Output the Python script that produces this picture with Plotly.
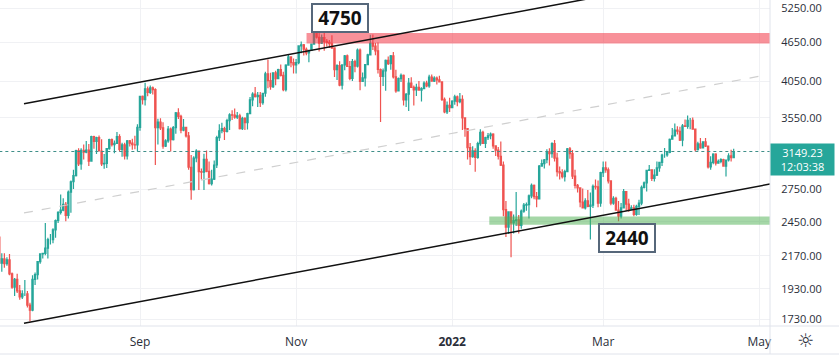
import math
import pandas as pd
import plotly.graph_objects as go

# ---------------- data (ETH/USD daily) ----------------
start_date = "2021-07-08"
end_date = "2022-04-21"

opens = [
    # Jul 8-31
    2320, 2115, 2146, 2110, 2140, 2035, 1940, 1995, 1915, 1875, 1895, 1895, 1820, 1787, 1995, 2030, 2125, 2185, 2190, 2230, 2300, 2300, 2380, 2462,
    # Aug
    2535, 2555, 2607, 2508, 2725, 2827, 2890, 3158, 3013, 3163, 3141, 3164, 3043, 3322, 3265, 3310, 3155, 3012, 3018, 3182, 3286, 3226, 3243, 3320, 3172, 3224, 3100, 3270, 3244, 3226, 3225,
    # Sep
    3433, 3835, 3790, 3940, 3887, 3952, 3927, 3428, 3497, 3427, 3211, 3270, 3410, 3285, 3430, 3614, 3571, 3399, 3433, 3330, 2977, 2749, 3077, 3155, 2930, 2925, 3062, 2934, 2807, 2853,
    # Oct
    3001, 3308, 3391, 3418, 3382, 3517, 3590, 3587, 3560, 3575, 3418, 3545, 3490, 3606, 3787, 3864, 3830, 3847, 3748, 3877, 4155, 4057, 3971, 4171, 4086, 4218, 4133, 3927, 4287, 4414, 4325,
    # Nov
    4288, 4325, 4590, 4607, 4536, 4478, 4518, 4620, 4812, 4735, 4636, 4730, 4667, 4650, 4626, 4558, 4218, 4280, 3992, 4290, 4432, 4265, 4087, 4340, 4270, 4524, 4044, 4097, 4295, 4445,
    # Dec
    4631, 4586, 4511, 4220, 4119, 4198, 4358, 4308, 4432, 4110, 3908, 4085, 4134, 3785, 3863, 4019, 3960, 3924, 3960, 3921, 3941, 4020, 3981, 4108, 4047, 4093, 4067, 4037, 3793, 3628, 3713,
    # Jan
    3682, 3769, 3829, 3761, 3794, 3550, 3418, 3193, 3091, 3157, 3083, 3238, 3372, 3243, 3310, 3331, 3350, 3212, 3164, 3096, 3000, 2560, 2405, 2538, 2440, 2460, 2467, 2420, 2545, 2600, 2605,
    # Feb
    2688, 2790, 2680, 2660, 2990, 3015, 3058, 3145, 3125, 3240, 3075, 2930, 2917, 2880, 2930, 3180, 3125, 2885, 2790, 2765, 2630, 2575, 2640, 2590, 2600, 2780, 2775, 2620,
    # Mar
    2920, 2970, 2950, 2835, 2620, 2665, 2555, 2500, 2575, 2730, 2610, 2560, 2575, 2515, 2590, 2620, 2770, 2815, 2945, 2950, 2860, 2895, 2970, 3030, 3110, 3110, 3140, 3290, 3330, 3400, 3385,
    # Apr 1-21
    3280, 3450, 3445, 3520, 3520, 3410, 3170, 3235, 3190, 3260, 3210, 2980, 3030, 3120, 3020, 3040, 3060, 2990, 3055, 3100, 3080,
]

highs = [
    2325, 2190, 2190, 2160, 2185, 2045, 2005, 2035, 1955, 1920, 1990, 1915, 1835, 2025, 2045, 2130, 2190, 2195, 2440, 2315, 2345, 2395, 2470, 2545,
    2700, 2665, 2630, 2740, 2840, 2950, 3170, 3185, 3185, 3230, 3270, 3235, 3330, 3330, 3320, 3335, 3290, 3120, 3185, 3295, 3300, 3275, 3375, 3350, 3250, 3250, 3280, 3280, 3295, 3330, 3470,
    3840, 3845, 4025, 3970, 3985, 3970, 3945, 3540, 3545, 3495, 3290, 3450, 3430, 3450, 3625, 3675, 3590, 3535, 3440, 3375, 3110, 3095, 3175, 3160, 2965, 3125, 3160, 3040, 2950, 3050,
    3330, 3470, 3490, 3440, 3540, 3610, 3650, 3670, 3625, 3605, 3565, 3560, 3615, 3825, 3890, 3965, 3895, 3895, 3885, 4185, 4375, 4170, 4175, 4200, 4230, 4295, 4185, 4300, 4460, 4420, 4390,
    4380, 4600, 4665, 4620, 4565, 4530, 4630, 4825, 4840, 4868, 4780, 4805, 4705, 4690, 4770, 4565, 4300, 4345, 4300, 4445, 4450, 4350, 4380, 4370, 4550, 4550, 4175, 4300, 4465, 4775,
    4780, 4640, 4645, 4235, 4235, 4375, 4420, 4445, 4490, 4215, 4100, 4160, 4145, 3880, 4095, 4105, 3985, 4010, 4050, 3960, 4045, 4055, 4140, 4145, 4120, 4115, 4125, 4040, 3820, 3765, 3815,
    3780, 3855, 3845, 3880, 3850, 3555, 3420, 3245, 3210, 3185, 3260, 3410, 3390, 3320, 3365, 3370, 3360, 3215, 3200, 3265, 3040, 2640, 2545, 2545, 2515, 2725, 2510, 2560, 2620, 2625, 2700,
    2810, 2800, 2725, 3000, 3060, 3065, 3175, 3185, 3255, 3280, 3135, 2985, 2955, 2950, 3190, 3200, 3165, 2950, 2805, 2770, 2760, 2665, 2745, 2720, 2800, 2850, 2840, 2930,
    3040, 3040, 2975, 2840, 2685, 2680, 2640, 2620, 2755, 2730, 2660, 2600, 2605, 2605, 2650, 2790, 2830, 2950, 3000, 2955, 2955, 3040, 3035, 3125, 3190, 3150, 3300, 3425, 3480, 3445, 3440,
    3475, 3530, 3580, 3550, 3555, 3415, 3260, 3305, 3265, 3305, 3215, 3095, 3130, 3130, 3060, 3075, 3070, 3045, 3130, 3170, 3180,
]

lows = [
    2085, 2050, 2080, 2095, 2025, 1930, 1880, 1900, 1855, 1860, 1880, 1805, 1718, 1780, 1955, 1995, 2110, 2150, 2175, 2150, 2260, 2270, 2315, 2440,
    2515, 2545, 2455, 2480, 2530, 2755, 2880, 2990, 2950, 3060, 3130, 2990, 3035, 3180, 3120, 3150, 2990, 2960, 2970, 3170, 3205, 3130, 3240, 3150, 3090, 3060, 3060, 3205, 3170, 3175, 3150,
    3390, 3725, 3710, 3835, 3865, 3860, 3000, 3230, 3400, 3180, 3200, 3250, 3150, 3275, 3355, 3535, 3360, 3385, 3310, 2950, 2650, 2740, 3030, 2745, 2850, 2745, 2925, 2800, 2790, 2845,
    2970, 3270, 3360, 3280, 3370, 3400, 3525, 3540, 3535, 3405, 3400, 3400, 3405, 3600, 3700, 3820, 3690, 3690, 3720, 3830, 3945, 3925, 3950, 3990, 4075, 4115, 3905, 3900, 4275, 4255, 4160,
    4160, 4300, 4470, 4435, 4440, 4330, 4515, 4615, 4715, 4500, 4620, 4510, 4580, 4555, 4540, 4110, 4065, 3975, 3930, 4210, 4260, 4060, 4050, 4180, 4250, 3920, 4040, 3970, 4285, 4440,
    4525, 4440, 4160, 3500, 3980, 3910, 4290, 4215, 4085, 3885, 3900, 4035, 3710, 3690, 3640, 3955, 3710, 3840, 3920, 3765, 3935, 3960, 3955, 4040, 4035, 4000, 4030, 3770, 3610, 3600, 3625,
    3680, 3720, 3700, 3740, 3400, 3320, 3060, 3000, 3080, 2930, 3070, 3215, 3235, 3190, 3280, 3290, 3180, 3100, 3060, 2990, 2500, 2320, 2345, 2160, 2350, 2415, 2350, 2390, 2530, 2550, 2480,
    2665, 2655, 2580, 2655, 2985, 2965, 3020, 2995, 3080, 3040, 2880, 2850, 2860, 2830, 2925, 3070, 2855, 2760, 2720, 2580, 2570, 2560, 2580, 2300, 2575, 2750, 2580, 2585,
    2875, 2920, 2810, 2600, 2605, 2550, 2455, 2480, 2570, 2550, 2540, 2555, 2500, 2505, 2510, 2600, 2760, 2730, 2940, 2835, 2830, 2885, 2930, 2990, 3080, 3090, 3130, 3285, 3325, 3345, 3270,
    3210, 3440, 3415, 3410, 3410, 3150, 3160, 3180, 3185, 3200, 2965, 2950, 3010, 2995, 3015, 3020, 2990, 2880, 3040, 3040, 3075,
]

closes = [
    2115, 2146, 2110, 2140, 2035, 1940, 1995, 1915, 1875, 1895, 1895, 1820, 1787, 1995, 2030, 2125, 2185, 2190, 2230, 2300, 2300, 2380, 2462, 2535,
    2555, 2607, 2508, 2725, 2827, 2890, 3158, 3013, 3163, 3141, 3164, 3043, 3322, 3265, 3310, 3155, 3012, 3018, 3182, 3286, 3226, 3243, 3320, 3172, 3224, 3100, 3270, 3244, 3226, 3225, 3433,
    3835, 3790, 3940, 3887, 3952, 3927, 3428, 3497, 3427, 3211, 3270, 3410, 3285, 3430, 3614, 3571, 3399, 3433, 3330, 2977, 2749, 3077, 3155, 2930, 2925, 3062, 2934, 2807, 2853, 3001,
    3308, 3391, 3418, 3382, 3517, 3590, 3587, 3560, 3575, 3418, 3545, 3490, 3606, 3787, 3864, 3830, 3847, 3748, 3877, 4155, 4057, 3971, 4171, 4086, 4218, 4133, 3927, 4287, 4414, 4325, 4288,
    4325, 4590, 4607, 4536, 4478, 4518, 4620, 4812, 4735, 4636, 4730, 4667, 4650, 4626, 4558, 4218, 4280, 3992, 4290, 4432, 4265, 4087, 4340, 4270, 4524, 4044, 4097, 4295, 4445, 4631,
    4586, 4511, 4220, 4119, 4198, 4358, 4308, 4432, 4110, 3908, 4085, 4134, 3785, 3863, 4019, 3960, 3924, 3960, 3921, 3941, 4020, 3981, 4108, 4047, 4093, 4067, 4037, 3793, 3628, 3713, 3682,
    3769, 3829, 3761, 3794, 3550, 3418, 3193, 3091, 3157, 3083, 3238, 3372, 3243, 3310, 3331, 3350, 3212, 3164, 3096, 3000, 2560, 2405, 2538, 2440, 2460, 2467, 2420, 2545, 2600, 2605, 2688,
    2790, 2680, 2660, 2990, 3015, 3058, 3145, 3125, 3240, 3075, 2930, 2917, 2880, 2930, 3180, 3125, 2885, 2790, 2765, 2630, 2575, 2640, 2590, 2600, 2780, 2775, 2620, 2920,
    2970, 2950, 2835, 2620, 2665, 2555, 2500, 2575, 2730, 2610, 2560, 2575, 2515, 2590, 2620, 2770, 2815, 2945, 2950, 2860, 2895, 2970, 3030, 3110, 3110, 3140, 3290, 3330, 3400, 3385, 3280,
    3450, 3445, 3520, 3520, 3410, 3170, 3235, 3190, 3260, 3210, 2980, 3030, 3120, 3020, 3040, 3060, 2990, 3055, 3100, 3080, 3149.23,
]

last_price = 3149.23
countdown = "12:03:38"

# drawings (levels)
upper_channel_dates = ["2021-07-17 16:00", "2022-02-27 18:00"]
upper_channel_prices = [3735, 5474]
lower_channel_dates = ["2021-07-17 16:00", "2022-05-05 05:00"]
lower_channel_prices = [1706, 2804]
mid_channel_dates = ["2021-07-17 16:00", "2022-05-03 21:00"]
mid_channel_prices = [2529, 4139]

resistance_start = "2021-11-05 02:00"
resistance_zone = [4630, 4805]
support_start = "2022-01-15 12:00"
support_zone = [2424, 2497]
zone_end = "2022-05-08"

top_label = "4750"
bottom_label = "2440"

price_ticks = [1730, 1930, 2170, 2450, 2750, 3550, 4050, 4650, 5250]
date_ticks = ["2021-09-01", "2021-11-01", "2022-01-01", "2022-03-01", "2022-05-01"]
date_tick_text = ["Sep", "Nov", "<b>2022</b>", "Mar", "May"]

# ---------------- figure ----------------
dates = pd.date_range(start_date, end_date, freq="D")

GREEN = "#26a69a"
RED = "#ef5350"
FONT = "Open Sans"

fig = go.Figure()

fig.add_trace(go.Candlestick(
    x=dates, open=opens, high=highs, low=lows, close=closes,
    increasing=dict(line=dict(color=GREEN, width=1.2), fillcolor=GREEN),
    decreasing=dict(line=dict(color=RED, width=1.2), fillcolor=RED),
    whiskerwidth=0, hoverinfo="skip",
))

# last price dotted line
fig.add_trace(go.Scatter(
    x=["2021-07-01", "2022-05-10"], y=[last_price, last_price], mode="lines",
    line=dict(color="#3f8f89", width=1, dash="dot"), hoverinfo="skip",
))

# zones
fig.add_trace(go.Scatter(
    x=[resistance_start, zone_end, zone_end, resistance_start, resistance_start],
    y=[resistance_zone[0], resistance_zone[0], resistance_zone[1], resistance_zone[1], resistance_zone[0]],
    mode="lines", fill="toself", fillcolor="rgba(242,54,69,0.55)", line=dict(width=0),
    hoverinfo="skip",
))
fig.add_trace(go.Scatter(
    x=[support_start, zone_end, zone_end, support_start, support_start],
    y=[support_zone[0], support_zone[0], support_zone[1], support_zone[1], support_zone[0]],
    mode="lines", fill="toself", fillcolor="rgba(76,175,80,0.5)", line=dict(width=0),
    hoverinfo="skip",
))

# channel lines
fig.add_trace(go.Scatter(x=mid_channel_dates, y=mid_channel_prices, mode="lines",
                         line=dict(color="#cfcfcf", width=1.2, dash="dash"), hoverinfo="skip"))
fig.add_trace(go.Scatter(x=upper_channel_dates, y=upper_channel_prices, mode="lines",
                         line=dict(color="#111111", width=1.5), hoverinfo="skip"))
fig.add_trace(go.Scatter(x=lower_channel_dates, y=lower_channel_prices, mode="lines",
                         line=dict(color="#111111", width=1.5), hoverinfo="skip"))

PLOT_W, PLOT_H = 770, 326
BORDER = "#e0e3eb"

shapes = [
    dict(type="line", xref="paper", yref="paper", x0=0, x1=839 / PLOT_W, y0=0, y1=0,
         line=dict(color=BORDER, width=1)),
    dict(type="line", xref="paper", yref="paper", x0=0, x1=839 / PLOT_W,
         y0=(PLOT_H - 354) / PLOT_H, y1=(PLOT_H - 354) / PLOT_H, line=dict(color=BORDER, width=1)),
    dict(type="line", xref="paper", yref="paper", x0=1, x1=1, y0=1.01,
         y1=(PLOT_H - 354) / PLOT_H, line=dict(color=BORDER, width=1)),
]

annotations = [
    dict(text=f"<b>{top_label}</b>", xref="paper", yref="paper",
         x=340 / PLOT_W, y=(PLOT_H - 17.5) / PLOT_H, xanchor="center", yanchor="middle",
         showarrow=False, bgcolor="white", bordercolor="#56677a", borderwidth=2, borderpad=1,
         width=52, height=24, font=dict(family=FONT, size=19, color="#111111")),
    dict(text=f"<b>{bottom_label}</b>", xref="paper", yref="paper",
         x=627 / PLOT_W, y=(PLOT_H - 238) / PLOT_H, xanchor="center", yanchor="middle",
         showarrow=False, bgcolor="white", bordercolor="#56677a", borderwidth=2, borderpad=1,
         width=52, height=24, font=dict(family=FONT, size=19, color="#111111")),
    dict(text=f"{last_price:.2f}<br>{countdown}", xref="paper", yref="paper",
         x=1.0, y=(PLOT_H - 159.5) / PLOT_H, xanchor="left", yanchor="middle",
         showarrow=False, bgcolor=GREEN, borderpad=2, width=59, height=27,
         font=dict(family=FONT, size=11, color="white")),
    dict(text="☼", xref="paper", yref="paper", x=805 / PLOT_W, y=(PLOT_H - 340) / PLOT_H,
         xanchor="center", yanchor="middle", showarrow=False,
         font=dict(family="DejaVu Sans", size=19, color="#2a2e39")),
]

y_lo, y_hi = 1689.4, 5407.8

fig.update_layout(
    width=839, height=359,
    margin=dict(l=0, r=69, t=0, b=33, autoexpand=False),
    paper_bgcolor="white", plot_bgcolor="white",
    showlegend=False,
    xaxis=dict(
        type="date", range=["2021-07-08 07:00", "2022-05-05 04:40"],
        tickvals=date_ticks, ticktext=date_tick_text,
        showgrid=True, gridcolor="#f0f1f4", gridwidth=1,
        ticks="outside", ticklen=5, tickcolor="rgba(0,0,0,0)",
        tickfont=dict(family=FONT, size=12, color="#2a2e39"),
        showline=False, zeroline=False, rangeslider=dict(visible=False),
        fixedrange=True,
    ),
    yaxis=dict(
        type="log", side="right", range=[math.log10(y_lo), math.log10(y_hi)],
        tickvals=price_ticks, ticktext=[f"{v:.2f}" for v in price_ticks],
        showgrid=True, gridcolor="#f0f1f4", gridwidth=1,
        ticks="outside", ticklen=8, tickcolor="rgba(0,0,0,0)",
        tickfont=dict(family=FONT, size=11, color="#2a2e39"),
        showline=False, zeroline=False, automargin=False, fixedrange=True,
    ),
    shapes=shapes,
    annotations=annotations,
)

fig.write_html("out.html", config={"displayModeBar": False},
               post_script="document.body.style.margin='0px';")
